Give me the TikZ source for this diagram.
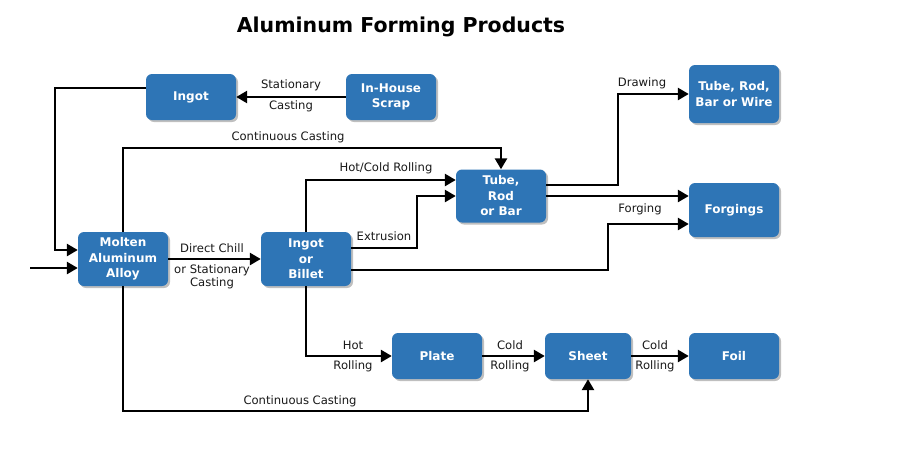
\documentclass[tikz,border=0pt]{standalone}
\usepackage{fontspec}
\setmainfont{DejaVu Sans}
\usetikzlibrary{arrows.meta,shadows,calc}
\definecolor{boxblue}{HTML}{2E75B6}
\tikzset{
  box/.style={fill=boxblue, rounded corners=6pt, minimum width=90pt, minimum height=46pt,
    text=white, font=\fontsize{12}{15.5}\selectfont\bfseries, align=center, inner sep=1pt,
    drop shadow={shadow xshift=2pt, shadow yshift=-2pt, fill=black, opacity=0.25}},
  arr/.style={line width=2.6pt, -{Triangle[length=11pt,width=12pt]}},
  lbl/.style={font=\fontsize{11.6}{13}\selectfont, inner sep=0pt, text=black!90},
}
\begin{document}
\begin{tikzpicture}[x=1pt,y=-1pt]
\useasboundingbox (0,0) rectangle (918,475);
\fill[white] (0,0) rectangle (918,475);
\node[font=\fontsize{20.5}{24}\selectfont\bfseries] (title) at (401,27) {Aluminum Forming Products};

\node[box] (ingot) at (191,97) {Ingot};
\node[box] (scrap) at (391,97) {In-House\\Scrap};
\node[box, minimum height=54pt] (molten) at (123,259) {Molten\\Aluminum\\Alloy};
\node[box, minimum height=54pt] (billet) at (306,259) {Ingot\\or\\Billet};
\node[box, minimum height=53pt] (tube) at (501,196) {Tube,\\Rod\\or Bar};
\node[box, minimum height=58pt] (trbw) at (734,94) {Tube, Rod,\\Bar or Wire};
\node[box, minimum height=54pt] (forg) at (734,210) {Forgings};
\node[box] (plate) at (437,356) {Plate};
\node[box, minimum width=86pt] (sheet) at (588,356) {Sheet};
\node[box] (foil) at (734,356) {Foil};

\coordinate (in) at (30,268);

\draw[arr] (scrap.west) -- (ingot.east);
\draw[arr] ($(ingot.west)+(0,-9)$) -| (55,250) -- ($(molten.west)+(0,-9)$);
\draw[arr] (in) -- ($(molten.west)+(0,9)$);
\draw[arr] (molten.north) -- (123,148) -| (tube.north);
\draw[arr] (molten.east) -- (billet.west);
\draw[arr] (billet.north) |- ($(tube.west)+(0,-16)$);
\draw[arr] ($(billet.east)+(0,-11)$) -| (417,196) -- (tube.west);
\draw[arr] ($(billet.east)+(0,11)$) -| (608,224) -- ($(forg.west)+(0,14)$);
\draw[arr] ($(tube.east)+(0,-11)$) -| (618,94) -- (trbw.west);
\draw[arr] (tube.east) -- (tube.east -| forg.west);
\draw[arr] (billet.south) |- (plate.west);
\draw[arr] (plate.east) -- (sheet.west);
\draw[arr] (sheet.east) -- (foil.west);
\draw[arr] (molten.south) -- (123,411) -| (sheet.south);

\node[lbl] (l1) at (291,85) {Stationary};
\node[lbl] (l2) at (291,106) {Casting};
\node[lbl] (l3) at (288,137) {Continuous Casting};
\node[lbl] (l4) at (212,248) {Direct Chill};
\node[lbl] (l5) at (212,270) {or Stationary};
\node[lbl] (l6) at (212,283) {Casting};
\node[lbl] (l7) at (386,168) {Hot/Cold Rolling};
\node[lbl] (l8) at (384,236) {Extrusion};
\node[lbl] (l9) at (640,209) {Forging};
\node[lbl] (l10) at (642,83) {Drawing};
\node[lbl] (l11) at (353,345) {Hot};
\node[lbl] (l12) at (353,366) {Rolling};
\node[lbl] (l13) at (510,345) {Cold};
\node[lbl] (l14) at (510,366) {Rolling};
\node[lbl] (l15) at (655,345) {Cold};
\node[lbl] (l16) at (655,366) {Rolling};
\node[lbl] (l17) at (300,401) {Continuous Casting};
\end{tikzpicture}
\end{document}
